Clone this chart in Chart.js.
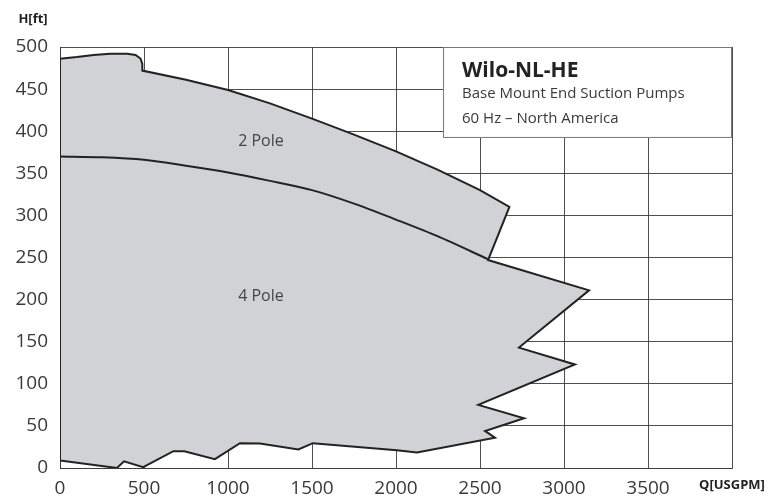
<!DOCTYPE html>
<html>
<head>
<meta charset="utf-8">
<script src="https://cdn.jsdelivr.net/npm/chart.js@4.4.1/dist/chart.umd.min.js"></script>
<style>
  html, body { margin: 0; padding: 0; background: #fff; }
  #wrap { width: 780px; height: 496px; position: relative; }
</style>
</head>
<body>
<div id="wrap"><canvas id="pumpChart"></canvas></div>
<script>
// Combined 2 pole + 4 pole envelope, walked clockwise from bottom left
const outlineQ = [0, 0, 100, 200, 300, 400, 450, 480, 490, 490, 750, 1000, 1250, 1500, 1750, 2000, 2250, 2500, 2675,
  2548, 3149, 2732, 3065, 2490, 2762, 2530, 2589, 2125, 2005, 1505, 1419, 1190, 1071, 922, 740, 675, 495, 381, 339, 0];
const outlineH = [9, 486, 488, 490.5, 492, 492, 490.5, 486, 480, 472, 461, 449, 433, 415, 396, 376, 354, 330, 310,
  247, 211, 143, 123, 75, 59, 44, 36, 18.5, 21, 29.5, 22, 29, 29.4, 10.5, 20, 20, 1, 8, 0, 9];

// Upper limit of the 4 pole range
const fourPoleQ = [0, 250, 500, 750, 1000, 1250, 1500, 1750, 2000, 2250, 2548];
const fourPoleH = [370, 369, 366, 359, 351, 341, 330, 314, 295, 275, 248];

const xTickValues = [0, 500, 1000, 1500, 2000, 2500, 3000, 3500, 4000];
const yTickValues = [0, 50, 100, 150, 200, 250, 300, 350, 400, 450, 500];

const infoLines = ['Wilo-NL-HE', 'Base Mount End Suction Pumps', '60 Hz \u2013 North America'];
const areaLabels = [
  { text: '2 Pole', q: 1196, h: 388 },
  { text: '4 Pole', q: 1196, h: 204 }
];

const FONT = "'Open Sans', 'Noto Sans', sans-serif";
const TEXT = '#3a3a3a';
const GRID = 'rgba(60,60,60,0.9)';

function toPoints(xs, ys) {
  return xs.map((x, i) => ({ x: x, y: ys[i] }));
}

// info box, area labels and axis captions
const annotations = {
  id: 'annotations',
  afterDraw(chart) {
    const { ctx, chartArea, scales } = chart;
    const x = scales.x, y = scales.y;
    ctx.save();

    // info box in the top right corner
    const left = x.getPixelForValue(2280);
    const right = chartArea.right;
    const top = chartArea.top;
    const bottom = y.getPixelForValue(392);
    ctx.fillStyle = '#fff';
    ctx.fillRect(left, top, right - left, bottom - top);
    ctx.strokeStyle = '#777';
    ctx.lineWidth = 1;
    ctx.strokeRect(left + 0.5, top + 0.5, right - left - 1, bottom - top - 1);

    ctx.fillStyle = '#222';
    ctx.textAlign = 'left';
    ctx.textBaseline = 'alphabetic';
    ctx.font = 'bold 21px ' + FONT;
    ctx.fillText(infoLines[0], left + 19, top + 30);
    ctx.fillStyle = TEXT;
    ctx.font = '15px ' + FONT;
    ctx.fillText(infoLines[1], left + 19, top + 51);
    ctx.fillText(infoLines[2], left + 19, top + 76);

    // area labels
    ctx.textAlign = 'center';
    ctx.textBaseline = 'middle';
    ctx.font = '16px ' + FONT;
    ctx.fillStyle = '#444';
    areaLabels.forEach(l => {
      ctx.fillText(l.text, x.getPixelForValue(l.q), y.getPixelForValue(l.h));
    });

    // y axis caption
    ctx.font = 'bold 13px ' + FONT;
    ctx.fillStyle = '#222';
    ctx.fillText('H[ft]', 33, 19);
    ctx.restore();
  }
};

const ctx = document.getElementById('pumpChart').getContext('2d');
const pumpChart = new Chart(ctx, {
  type: 'scatter',
  data: {
    datasets: [
      {
        label: 'Envelope',
        data: toPoints(outlineQ, outlineH),
        showLine: true,
        fill: 'shape',
        backgroundColor: 'rgb(209,210,212)',
        borderColor: '#222',
        borderWidth: 2,
        pointRadius: 0,
        tension: 0,
        order: 2
      },
      {
        label: '4 Pole',
        data: toPoints(fourPoleQ, fourPoleH),
        showLine: true,
        fill: false,
        borderColor: '#222',
        borderWidth: 2,
        pointRadius: 0,
        tension: 0.3,
        order: 1
      }
    ]
  },
  options: {
    responsive: true,
    maintainAspectRatio: false,
    animation: false,
    layout: { padding: { top: 47, right: 48, left: 0, bottom: 0 } },
    plugins: {
      legend: { display: false },
      tooltip: { enabled: false }
    },
    scales: {
      x: {
        type: 'linear',
        min: 0,
        max: 4000,
        afterFit: s => { s.height = 28; },
        afterBuildTicks: s => { s.ticks = xTickValues.map(v => ({ value: v })); },
        grid: { color: GRID, lineWidth: 1, drawTicks: false },
        border: { color: GRID },
        ticks: {
          padding: 9,
          color: ctx => ctx.tick && ctx.tick.value === 4000 ? '#222' : TEXT,
          font: ctx => ctx.tick && ctx.tick.value === 4000
            ? { family: FONT, size: 13, weight: 'bold' }
            : { family: FONT, size: 19 },
          callback: v => v === 4000 ? 'Q[USGPM]' : v
        }
      },
      y: {
        type: 'linear',
        min: 0,
        max: 500,
        afterFit: s => { s.width = 60; },
        afterBuildTicks: s => { s.ticks = yTickValues.map(v => ({ value: v })); },
        grid: { color: GRID, lineWidth: 1, drawTicks: false },
        border: { color: GRID },
        ticks: {
          padding: 12,
          color: TEXT,
          font: { family: FONT, size: 19 }
        }
      }
    }
  },
  plugins: [annotations]
});
</script>
</body>
</html>
